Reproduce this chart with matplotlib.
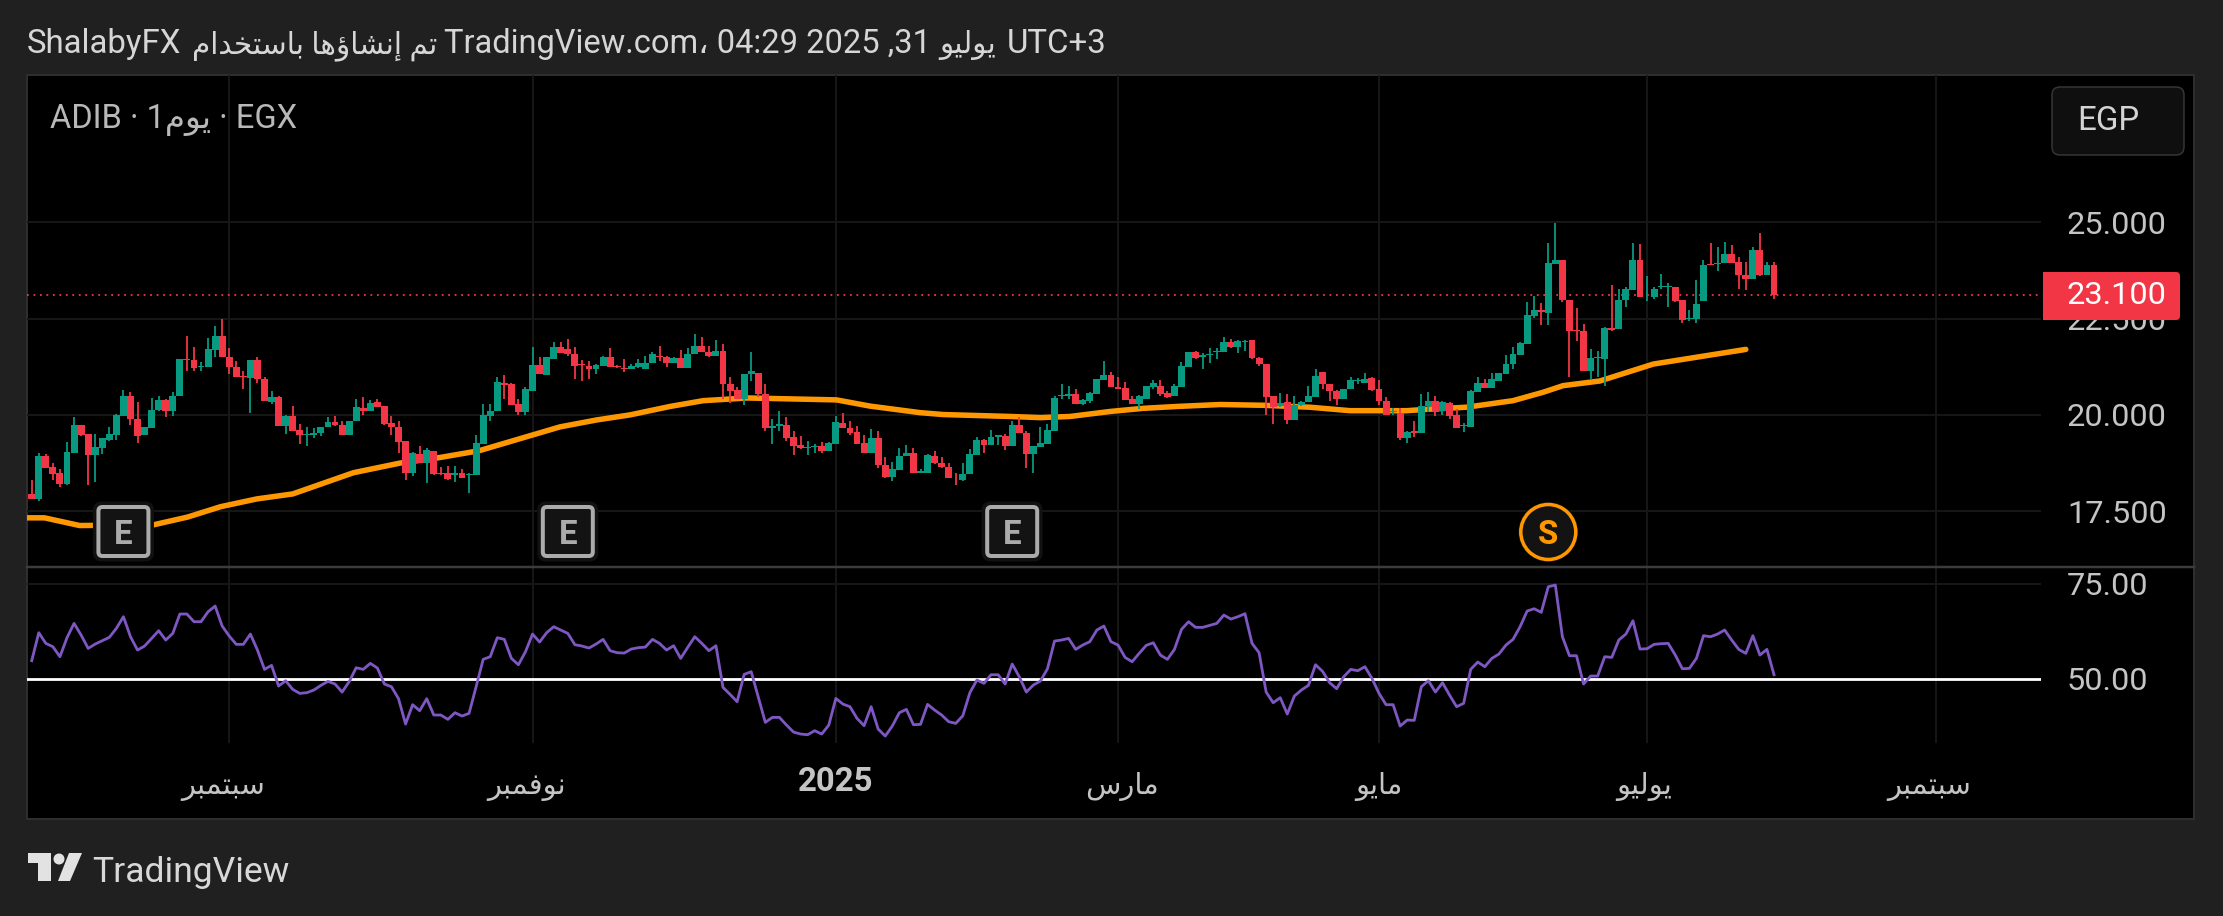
import matplotlib
matplotlib.use("Agg")
import matplotlib.pyplot as plt
from matplotlib.patches import FancyBboxPatch, Circle, Polygon, Rectangle
from matplotlib.ticker import FormatStrFormatter
from matplotlib.transforms import ScaledTranslation

W, H = 2223, 916
PT = 72 / 100  # pixels to points at dpi 100

plt.rcParams['font.family'] = ['Roboto', 'DejaVu Sans']

opens = [
    17.95,17.83,18.94,18.64,18.49,18.21,19.02,19.73,19.50,18.97,
    19.15,19.35,19.49,19.98,20.49,19.90,19.47,19.67,20.13,20.39,
    20.11,20.48,21.46,21.43,21.25,21.25,21.69,22.05,21.51,21.25,
    21.01,20.96,21.42,20.93,20.34,20.46,19.71,19.97,19.60,19.47,
    19.48,19.53,19.68,19.81,19.73,19.49,19.83,20.19,20.11,20.34,
    20.23,19.78,19.68,19.32,18.49,18.99,18.75,19.06,18.50,18.49,
    18.45,18.49,18.43,18.44,19.25,19.97,20.11,20.84,20.79,20.29,
    20.08,20.61,21.29,21.03,21.44,21.76,21.70,21.58,21.31,21.27,
    21.20,21.27,21.50,21.27,21.22,21.18,21.25,21.20,21.34,21.53,
    21.51,21.36,21.48,21.22,21.57,21.79,21.64,21.53,21.65,20.79,
    20.65,20.41,21.06,21.08,20.54,19.65,19.71,19.74,19.42,19.21,
    19.14,19.16,19.20,19.06,19.25,19.80,19.66,19.56,19.27,19.00,
    19.40,18.69,18.40,18.57,18.94,19.00,18.49,18.49,18.94,18.75,
    18.66,18.45,18.30,18.48,18.97,19.34,19.23,19.44,19.46,19.20,
    19.73,19.54,18.99,19.18,19.25,19.59,20.48,20.49,20.54,20.29,
    20.37,20.53,20.91,21.04,20.73,20.70,20.41,20.29,20.41,20.73,
    20.75,20.56,20.48,20.73,21.25,21.62,21.51,21.55,21.64,21.64,
    21.88,21.77,21.89,21.95,21.48,21.31,20.49,20.22,20.33,19.87,
    20.25,20.34,20.46,21.12,20.80,20.61,20.42,20.68,20.87,20.84,
    20.95,20.68,20.36,20.08,20.06,19.39,19.57,19.52,20.22,20.37,
    20.10,20.32,20.01,19.70,19.68,20.60,20.84,20.70,20.89,21.06,
    21.31,21.55,21.83,22.57,22.73,22.64,23.92,24.02,22.98,22.21,
    22.19,21.15,21.47,21.46,22.26,22.22,22.97,23.24,24.02,23.05,
    23.05,23.31,23.31,23.33,22.97,22.48,22.50,22.95,23.92,23.92,
    23.95,24.18,23.97,23.62,23.52,24.27,23.64,23.90,
]
highs = [
    18.31,19.00,18.99,18.75,18.59,19.30,19.94,19.73,19.50,19.50,
    19.40,19.68,20.03,20.65,20.60,20.34,19.68,20.44,20.49,20.42,
    20.60,21.44,22.05,21.77,21.38,22.00,22.31,22.48,21.74,21.39,
    21.15,21.42,21.50,20.98,20.61,20.49,20.01,20.22,19.77,19.68,
    19.66,19.68,19.94,19.96,19.84,19.84,20.41,20.46,20.39,20.42,
    20.23,19.96,19.85,19.32,19.04,19.20,19.13,19.06,18.66,18.68,
    18.68,18.59,18.49,19.47,20.29,20.29,20.98,21.03,20.84,20.41,
    20.72,21.76,21.50,21.50,21.89,21.90,21.96,21.76,21.43,21.41,
    21.31,21.53,21.74,21.29,21.44,21.32,21.44,21.53,21.62,21.79,
    21.53,21.50,21.69,21.74,22.10,22.03,21.79,21.95,21.84,20.98,
    20.72,21.06,21.64,21.08,20.79,19.90,20.10,19.94,19.58,19.46,
    19.32,19.25,19.30,19.30,19.96,20.06,19.85,19.70,19.47,19.63,
    19.58,18.92,18.78,19.13,19.21,19.14,18.59,18.99,19.06,18.90,
    18.75,18.49,18.75,19.11,19.44,19.37,19.61,19.47,19.51,19.84,
    19.94,19.58,19.20,19.68,19.77,20.49,20.79,20.75,20.68,20.41,
    20.60,20.93,21.39,21.12,20.99,20.86,20.48,20.51,20.75,20.91,
    20.91,20.61,20.80,21.38,21.64,21.65,21.60,21.74,21.74,22.02,
    21.96,21.95,21.95,21.95,21.50,21.31,20.49,20.58,20.54,20.49,
    20.37,20.75,21.19,21.12,20.80,20.65,20.68,20.98,20.96,21.08,
    20.98,20.91,20.46,20.18,20.17,19.59,19.84,20.53,20.60,20.48,
    20.36,20.34,20.15,19.80,20.65,20.99,20.94,21.08,21.10,21.55,
    21.77,21.88,22.93,23.09,22.90,24.47,24.99,24.02,22.98,22.78,
    22.36,21.72,21.67,22.28,23.38,23.26,23.31,24.47,24.44,23.61,
    23.33,23.66,23.43,23.33,22.97,22.71,23.50,24.02,24.47,24.37,
    24.49,24.42,24.11,23.97,24.35,24.73,23.97,23.97,
]
lows = [
    17.83,17.76,18.62,18.30,18.12,18.17,19.02,19.46,18.17,18.26,
    18.99,19.33,19.35,19.98,19.75,19.28,19.47,19.67,20.11,19.94,
    19.96,20.48,21.15,21.13,21.13,21.25,21.51,21.51,21.05,20.99,
    20.68,20.06,20.84,20.35,20.29,19.72,19.51,19.59,19.25,19.20,
    19.39,19.46,19.68,19.71,19.49,19.49,19.83,20.01,20.11,20.20,
    19.74,19.47,19.00,18.30,18.42,18.75,18.24,18.43,18.45,18.31,
    18.26,18.36,17.97,18.44,19.25,19.84,20.11,20.41,20.27,20.01,
    20.01,20.61,21.05,21.03,21.44,21.60,21.53,20.94,20.89,20.94,
    21.05,21.27,21.24,21.22,21.12,21.18,21.22,21.20,21.34,21.41,
    21.25,21.36,21.22,21.22,21.57,21.62,21.50,21.53,20.41,20.32,
    20.41,20.27,20.87,20.46,19.58,19.25,19.58,19.33,18.97,19.11,
    18.97,19.00,19.00,19.06,19.25,19.65,19.47,19.25,19.00,19.00,
    18.61,18.37,18.28,18.57,18.94,18.49,18.49,18.49,18.73,18.62,
    18.37,18.19,18.28,18.48,18.97,19.02,19.21,19.21,19.09,19.20,
    19.52,18.61,18.50,19.16,19.25,19.59,20.41,20.42,20.29,20.27,
    20.32,20.53,20.91,20.72,20.68,20.39,20.29,20.15,20.41,20.68,
    20.48,20.44,20.48,20.73,21.25,21.46,21.20,21.36,21.46,21.64,
    21.74,21.60,21.65,21.44,21.27,19.99,19.77,20.20,19.77,19.87,
    20.23,20.34,20.46,20.68,20.37,20.25,20.42,20.68,20.80,20.84,
    20.63,20.25,19.99,19.99,19.35,19.27,19.44,19.52,20.08,19.96,
    20.01,19.89,19.65,19.56,19.68,20.60,20.70,20.70,20.89,21.06,
    21.20,21.55,21.83,22.52,22.33,22.33,23.92,22.92,20.98,21.91,
    21.15,20.91,20.99,20.75,22.17,22.22,22.81,23.24,23.05,22.95,
    23.00,23.28,22.79,22.92,22.38,22.45,22.38,22.95,23.88,23.73,
    23.95,23.95,23.28,23.23,23.52,23.61,23.64,23.00,
]
closes = [
    17.83,18.94,18.62,18.47,18.21,19.03,19.73,19.48,18.97,19.16,
    19.39,19.50,20.01,20.49,19.90,19.46,19.68,20.13,20.39,20.11,
    20.49,21.44,21.43,21.21,21.28,21.71,22.05,21.51,21.24,20.99,
    20.99,21.42,20.93,20.35,20.46,19.72,19.97,19.59,19.47,19.51,
    19.54,19.68,19.82,19.73,19.49,19.84,20.21,20.10,20.32,20.20,
    19.76,19.68,19.31,18.49,19.00,18.75,19.09,18.47,18.47,18.33,
    18.49,18.37,18.47,19.27,19.99,20.11,20.86,20.77,20.27,20.08,
    20.67,21.29,21.05,21.49,21.76,21.60,21.57,21.27,21.29,21.19,
    21.29,21.51,21.24,21.24,21.18,21.27,21.36,21.34,21.57,21.50,
    21.36,21.48,21.22,21.58,21.79,21.62,21.53,21.65,20.79,20.63,
    20.41,21.06,21.13,20.54,19.65,19.71,19.76,19.40,19.20,19.13,
    19.18,19.20,19.07,19.27,19.82,19.65,19.54,19.25,19.00,19.40,
    18.69,18.40,18.59,18.94,19.00,18.49,18.54,18.95,18.75,18.64,
    18.37,18.43,18.47,18.99,19.35,19.23,19.44,19.47,19.20,19.73,
    19.52,18.99,19.20,19.27,19.61,20.44,20.51,20.53,20.29,20.39,
    20.56,20.93,21.03,20.72,20.68,20.39,20.29,20.49,20.75,20.84,
    20.54,20.46,20.75,21.27,21.62,21.48,21.55,21.58,21.67,21.88,
    21.76,21.91,21.93,21.48,21.31,20.46,20.20,20.30,19.87,20.27,
    20.34,20.48,21.01,20.79,20.61,20.41,20.68,20.91,20.91,20.94,
    20.65,20.36,20.01,20.11,19.39,19.56,19.54,20.23,20.36,20.08,
    20.33,19.98,19.65,19.73,20.61,20.84,20.70,20.94,21.08,21.32,
    21.57,21.86,22.60,22.73,22.66,23.94,24.02,22.98,22.17,22.17,
    21.15,21.48,21.50,22.26,22.21,22.98,23.26,24.02,23.05,23.07,
    23.26,23.34,23.35,22.95,22.47,22.52,22.88,23.90,23.88,23.95,
    24.18,23.95,23.62,23.52,24.27,23.64,23.90,23.10,
]
rsi = [
    54.74,62.11,59.30,58.42,55.79,60.79,64.56,61.49,57.98,59.12,
    60.00,60.88,63.25,66.32,61.05,57.54,58.60,60.61,62.63,60.18,
    61.93,67.02,67.02,65.00,65.00,67.63,69.12,63.86,61.23,59.04,
    59.04,61.75,57.54,52.46,53.51,48.07,49.47,47.19,46.14,46.32,
    47.02,48.25,49.30,48.60,46.49,49.21,52.89,52.46,54.04,52.81,
    48.60,47.89,44.74,38.07,43.16,41.58,44.74,40.44,40.44,39.30,
    41.05,40.18,40.88,47.89,55.09,55.79,60.79,60.35,55.35,53.68,
    57.11,61.75,59.65,62.11,63.68,62.81,61.93,58.95,58.60,58.07,
    59.12,60.35,57.37,56.84,56.75,57.81,58.16,58.33,60.35,59.30,
    57.54,58.68,55.35,58.25,61.05,59.30,57.37,58.68,47.72,45.88,
    43.95,51.14,51.84,45.18,38.51,39.82,39.82,37.81,35.96,35.44,
    35.26,36.32,35.44,37.81,44.82,43.33,42.63,39.56,37.63,42.63,
    36.75,34.91,37.54,41.05,41.93,37.89,37.98,43.25,41.75,40.44,
    38.68,38.25,40.26,46.32,49.65,48.77,51.05,51.05,48.60,53.86,
    50.53,46.49,48.33,49.39,52.63,59.91,60.18,60.61,57.72,58.86,
    59.74,62.81,63.86,59.74,58.86,55.61,54.47,56.67,58.77,59.47,
    56.23,55.09,57.72,62.98,65.00,63.51,63.51,64.04,64.56,66.75,
    65.70,66.32,67.11,59.30,56.84,46.49,43.68,45.00,40.70,45.44,
    47.02,48.25,53.68,51.93,48.95,47.37,50.53,52.46,52.11,53.16,
    50.09,46.14,43.16,43.16,37.54,39.12,39.04,47.89,49.47,46.49,
    48.95,45.70,42.63,43.51,52.46,54.39,53.16,55.35,56.49,58.86,
    60.35,63.68,67.81,68.42,67.46,74.21,74.65,61.05,56.05,56.05,
    48.60,50.70,50.70,55.79,55.61,60.18,61.75,65.26,57.81,57.89,
    59.04,59.21,59.30,56.23,52.63,52.72,55.35,61.32,61.05,61.75,
    62.81,60.18,57.72,56.67,61.32,56.23,57.72,51.05,
]

# moving average, sampled where its slope changes
ma_bars = [-0.67, 1.8, 6.8, 17.3, 22.1, 26.8, 31.9, 37.0, 45.6, 52.2, 57.7, 63.4, 74.9,
           80.1, 84.8, 90.5, 95.2, 101.4, 114.1, 118.8, 125.9, 129.2, 138.7, 143.0,
           147.2, 152.9, 157.5, 162.4, 168.5, 174.6, 181.2, 186.9, 194.9, 198.2,
           203.4, 210.0, 214.3, 217.1, 222.3, 229.9, 243.0]
ma_values = [17.33, 17.33, 17.13, 17.15, 17.35, 17.62, 17.82, 17.95, 18.50, 18.75, 18.89,
             19.07, 19.69, 19.87, 20.00, 20.22, 20.37, 20.44, 20.39, 20.23, 20.06, 20.01,
             19.96, 19.93, 19.96, 20.09, 20.17, 20.22, 20.27, 20.25, 20.20, 20.11, 20.11,
             20.15, 20.20, 20.37, 20.59, 20.76, 20.88, 21.32, 21.70]

last_price = 23.10
price_ticks = [17.5, 20.0, 22.5, 25.0]
rsi_ticks = [50, 75]
month_bars = [28, 71, 114, 154, 191, 229, 270]
month_names = ['سبتمبر', 'نوفمبر', '2025', 'مارس', 'مايو', 'يوليو', 'سبتمبر']
earnings_bars = [13, 76, 139]
split_bar = 215

GREEN = '#089981'
RED = '#F23645'
ORANGE = '#FF9800'
PURPLE = '#7E57C2'
GRID = '#161616'
LABEL = '#c4c4c4'
BG = '#202020'

# contextual forms of the letters in use: isolated, final, initial, medial
FORMS = {
    'ا': (0xFE8D, 0xFE8E), 'إ': (0xFE87, 0xFE88), 'ؤ': (0xFE85, 0xFE86),
    'د': (0xFEA9, 0xFEAA), 'ر': (0xFEAD, 0xFEAE), 'و': (0xFEED, 0xFEEE),
    'ب': (0xFE8F, 0xFE90, 0xFE91, 0xFE92), 'ت': (0xFE95, 0xFE96, 0xFE97, 0xFE98),
    'خ': (0xFEA5, 0xFEA6, 0xFEA7, 0xFEA8), 'س': (0xFEB1, 0xFEB2, 0xFEB3, 0xFEB4),
    'ش': (0xFEB5, 0xFEB6, 0xFEB7, 0xFEB8), 'ف': (0xFED1, 0xFED2, 0xFED3, 0xFED4),
    'ل': (0xFEDD, 0xFEDE, 0xFEDF, 0xFEE0), 'م': (0xFEE1, 0xFEE2, 0xFEE3, 0xFEE4),
    'ن': (0xFEE5, 0xFEE6, 0xFEE7, 0xFEE8), 'ه': (0xFEE9, 0xFEEA, 0xFEEB, 0xFEEC),
    'ي': (0xFEF1, 0xFEF2, 0xFEF3, 0xFEF4),
}


def ar(word):
    # matplotlib has no shaping or bidi, so join the letters and lay them out left to right
    if word[0] not in FORMS:
        return word
    out = []
    for i, ch in enumerate(word):
        forms = FORMS[ch]
        joins_prev = i > 0 and len(FORMS[word[i - 1]]) == 4
        joins_next = i < len(word) - 1 and len(forms) == 4
        if joins_prev and joins_next:
            out.append(chr(forms[3]))
        elif joins_prev:
            out.append(chr(forms[1]))
        elif joins_next:
            out.append(chr(forms[2]))
        else:
            out.append(chr(forms[0]))
    return ''.join(reversed(out))


def px_axes(x0, y0, x1, y1, **kwargs):
    return fig.add_axes([x0 / W, 1 - y1 / H, (x1 - x0) / W, (y1 - y0) / H], **kwargs)


fig = plt.figure(figsize=(W / 100, H / 100), dpi=100, facecolor=BG)

# pixel space layers under and over the two panes
under = px_axes(0, 0, W, H, zorder=0)
under.set_xlim(0, W)
under.set_ylim(H, 0)
under.axis('off')
under.add_patch(Rectangle((27, 75), 2167, 744, fc='#000000', ec='#2e2e2e', lw=2 * PT))

price_ax = px_axes(27, 75, 2041, 566, zorder=1, facecolor='none')
rsi_ax = px_axes(27, 567, 2041, 742.7, zorder=1, facecolor='none')
xlim = (-0.67, 284.85)

for ax in (price_ax, rsi_ax):
    ax.set_xlim(*xlim)
    ax.set_xticks(month_bars)
    ax.yaxis.tick_right()
    ax.grid(True, color=GRID, lw=2 * PT)
    ax.set_axisbelow(True)
    for spine in ax.spines.values():
        spine.set_visible(False)
    ax.tick_params(axis='both', length=0, labelsize=32.5 * PT, labelcolor=LABEL, pad=26 * PT)

price_ax.set_ylim(16.08, 28.82)
price_ax.set_yticks(price_ticks)
price_ax.yaxis.set_major_formatter(FormatStrFormatter('%.3f'))
price_ax.tick_params(axis='x', labelbottom=False)

rsi_ax.set_ylim(33.16, 79.4)
rsi_ax.set_yticks(rsi_ticks)
rsi_ax.yaxis.set_major_formatter(FormatStrFormatter('%.2f'))
rsi_ax.set_xticklabels([ar(m) for m in month_names])
rsi_ax.tick_params(axis='x', pad=44 * PT)

# month labels: Arabic in a smaller size, year in bold, each nudged onto its spot
label_nudge = [(-6, 0), (-6, 0), (0, 5), (4, 0), (0, 0), (-3, 0), (-7, 0)]
for lab, (dx, dy) in zip(rsi_ax.get_xticklabels(), label_nudge):
    lab.set_va('center')
    lab.set_fontsize(29 * PT)
    lab.set_transform(lab.get_transform() + ScaledTranslation(dx / 100, dy / 100, fig.dpi_scale_trans))
rsi_ax.get_xticklabels()[2].set_fontweight('bold')
rsi_ax.get_xticklabels()[2].set_fontsize(33 * PT)

# candles
bars = list(range(len(closes)))
colors = [GREEN if c >= o else RED for o, c in zip(opens, closes)]
price_ax.vlines(bars, lows, highs, colors=colors, lw=1.8 * PT, zorder=3)
price_ax.bar(bars, [abs(c - o) for o, c in zip(opens, closes)],
             bottom=[min(o, c) for o, c in zip(opens, closes)],
             width=0.98, color=colors, linewidth=0, zorder=4)
price_ax.plot(ma_bars, ma_values, color=ORANGE, lw=5.5 * PT, solid_capstyle='round', zorder=2)
price_ax.axhline(last_price, color=RED, lw=1.8 * PT, ls=(0, (1, 2.6)), zorder=2)

# oscillator pane
rsi_ax.axhline(50, color='#ffffff', lw=2.8 * PT, zorder=2)
rsi_ax.plot(bars, rsi, color=PURPLE, lw=2.8 * PT, zorder=3)

# everything drawn over the panes
over = px_axes(0, 0, W, H, zorder=5)
over.set_xlim(0, W)
over.set_ylim(H, 0)
over.axis('off')
over.patch.set_alpha(0)


def bar_px(i):
    return 27 + (i - xlim[0]) / (xlim[1] - xlim[0]) * 2014


over.plot([27, 2194], [566.7, 566.7], color='#3c3c3c', lw=2.5 * PT, zorder=1)

for b in earnings_bars:
    cx = bar_px(b)
    over.add_patch(FancyBboxPatch((cx - 26, 506), 52, 51, boxstyle='round,pad=0,rounding_size=4',
                                  fc='#131313', ec='#111111', lw=9 * PT, zorder=2))
    over.add_patch(FancyBboxPatch((cx - 25, 507), 50, 49, boxstyle='round,pad=0,rounding_size=4',
                                  fc='#131313', ec='#ababab', lw=4 * PT, zorder=3))
    over.text(cx, 544, 'E', color='#ababab', fontsize=33 * PT, fontweight='bold',
              ha='center', va='baseline', zorder=4)

cx = bar_px(split_bar)
over.add_patch(Circle((cx, 532), 30, fc='#111111', ec='none', zorder=2))
over.add_patch(Circle((cx, 532), 27.5, fc='#131313', ec=ORANGE, lw=3.5 * PT, zorder=3))
over.text(cx, 544, 'S', color=ORANGE, fontsize=33 * PT, fontweight='bold',
          ha='center', va='baseline', zorder=4)

# last price tag
over.add_patch(FancyBboxPatch((2043, 272), 137, 48, boxstyle='round,pad=0,rounding_size=4',
                              fc=RED, ec='none', zorder=3))
over.add_patch(Rectangle((2043, 272), 8, 48, fc=RED, ec='none', zorder=3))
over.text(2067, 296, f'{last_price:.3f}', color='#ffffff', fontsize=32.5 * PT, ha='left', va='center', zorder=4)

# currency button
over.add_patch(FancyBboxPatch((2052, 87), 132, 68, boxstyle='round,pad=0,rounding_size=8',
                              fc='#0f0f0f', ec='#363636', lw=1.5 * PT, zorder=3))
over.text(2108, 121, 'EGP', color='#d4d4d4', fontsize=33 * PT, ha='center', va='center', zorder=4)

# header, set in runs because the Arabic face is wider than the Latin one
HEADER = '#d6d6d6'
over.text(27, 53, 'ShalabyFX', color=HEADER, fontsize=33 * PT, ha='left', va='baseline')
over.text(192, 53, f"{ar('باستخدام')} {ar('إنشاؤها')} {ar('تم')}", color=HEADER,
          fontsize=29.5 * PT, ha='left', va='baseline')
over.text(444, 53, 'TradingView.com\u060c 04:29 2025 ,31', color=HEADER, fontsize=32.7 * PT,
          ha='left', va='baseline')
over.text(939, 53, ar('يوليو'), color=HEADER, fontsize=29.5 * PT, ha='left', va='baseline')
over.text(1007, 53, 'UTC+3', color=HEADER, fontsize=33 * PT, ha='left', va='baseline')

over.text(50, 128, f"ADIB · 1{ar('يوم')} · EGX", color='#b8b8b8', fontsize=32.6 * PT,
          ha='left', va='baseline')

# logo and wordmark
LOGO = '#e2e2e2'
over.add_patch(Polygon([(28, 853), (51, 853), (51, 881), (38, 881), (38, 863), (28, 863)], fc=LOGO, ec='none'))
over.add_patch(Circle((59, 859), 5.5, fc=LOGO, ec='none'))
over.add_patch(Polygon([(69, 853), (82, 853), (70, 881), (58, 881)], fc=LOGO, ec='none'))
over.text(92, 882, 'TradingView', color='#d8d8d8', fontsize=35.5 * PT, ha='left', va='baseline')

fig.savefig('out.png', dpi=100, facecolor=BG)
